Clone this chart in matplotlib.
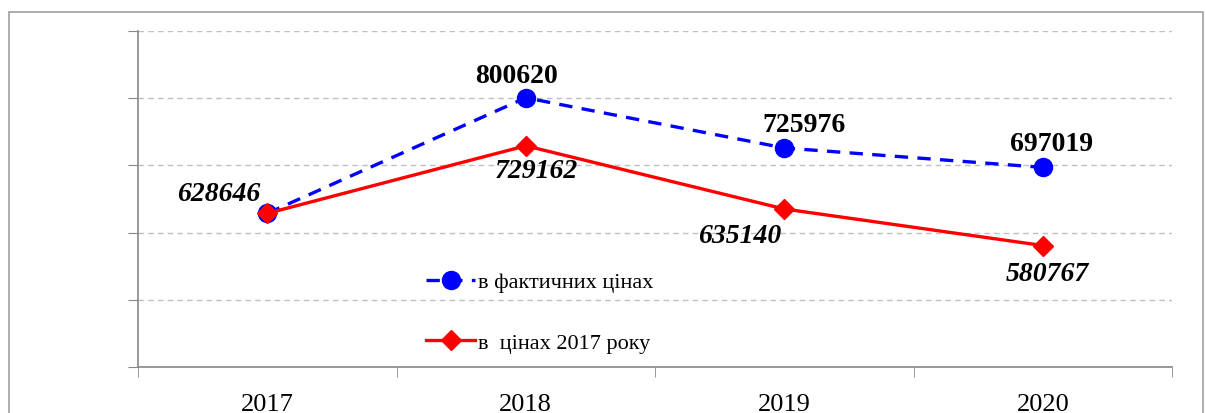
import matplotlib
matplotlib.use('Agg')
import matplotlib.pyplot as plt
from matplotlib.patches import Rectangle

years = ['2017', '2018', '2019', '2020']
actual_prices = [628646, 800620, 725976, 697019]
prices_2017 = [628646, 729162, 635140, 580767]
actual_label = 'в фактичних цінах'
const_label = 'в  цінах 2017 року'

# label offsets in points (rough)
actual_offsets = [None, (-7, 16), (14, 17), (6, 17)]
const_offsets = [(-35, 14), (8, -18), (-32, -19), (3, -20)]

plt.rcParams['font.family'] = ['Liberation Serif', 'DejaVu Serif']

fig = plt.figure(figsize=(12.06, 4.14), dpi=100)
fig.patches.append(Rectangle((9 / 1206, -0.05), (1203 - 9) / 1206, 1.05 - 13 / 414,
                             transform=fig.transFigure, fill=False,
                             edgecolor='#a0a0a0', linewidth=1.2))
ax = fig.add_axes([138 / 1206, 46 / 414, 1034 / 1206, 336 / 414])

x = list(range(len(years)))
ax.plot(x, actual_prices, color='#0000ff', linestyle=(0, (4, 2.8)), linewidth=2.4,
        marker='o', markersize=13, label=actual_label, zorder=3)
ax.plot(x, prices_2017, color='#ff0000', linestyle='-', linewidth=2.4,
        marker='D', markersize=10, label=const_label, zorder=4)

for i, v in enumerate(actual_prices):
    if actual_offsets[i] is None:
        continue
    ax.annotate(str(v), (i, v), xytext=actual_offsets[i], textcoords='offset points',
                ha='center', va='center', fontsize=20, fontweight='bold', color='black')
for i, v in enumerate(prices_2017):
    ax.annotate(str(v), (i, v), xytext=const_offsets[i], textcoords='offset points',
                ha='center', va='center', fontsize=20, fontweight='bold',
                fontstyle='italic', color='black')

ax.set_xlim(-0.5, len(years) - 0.5)
ax.set_ylim(400000, 900000)
ax.set_yticks(range(400000, 900001, 100000))
ax.set_yticklabels([])
ax.set_xticks(x)
ax.set_xticklabels(years, fontsize=19)
ax.set_xticks([i - 0.5 for i in range(len(years) + 1)], minor=True)
ax.tick_params(axis='x', which='major', length=0, pad=19)
ax.tick_params(axis='x', which='minor', length=7, color='#888888', direction='out')
ax.tick_params(axis='y', length=7, color='#888888', direction='out')
ax.grid(axis='y', color='#c0c0c0', linestyle=(0, (4, 3)), linewidth=1)
ax.set_axisbelow(True)
for s in ['top', 'right']:
    ax.spines[s].set_visible(False)
for s in ['left', 'bottom']:
    ax.spines[s].set_color('#888888')
    ax.spines[s].set_linewidth(1.2)

ax.legend(loc='upper left', bbox_to_anchor=(0.27, 0.31), frameon=False,
          fontsize=16, handlelength=2.2, handletextpad=0.15, labelspacing=1.8,
          borderaxespad=0)

fig.savefig('out.png', dpi=100)
